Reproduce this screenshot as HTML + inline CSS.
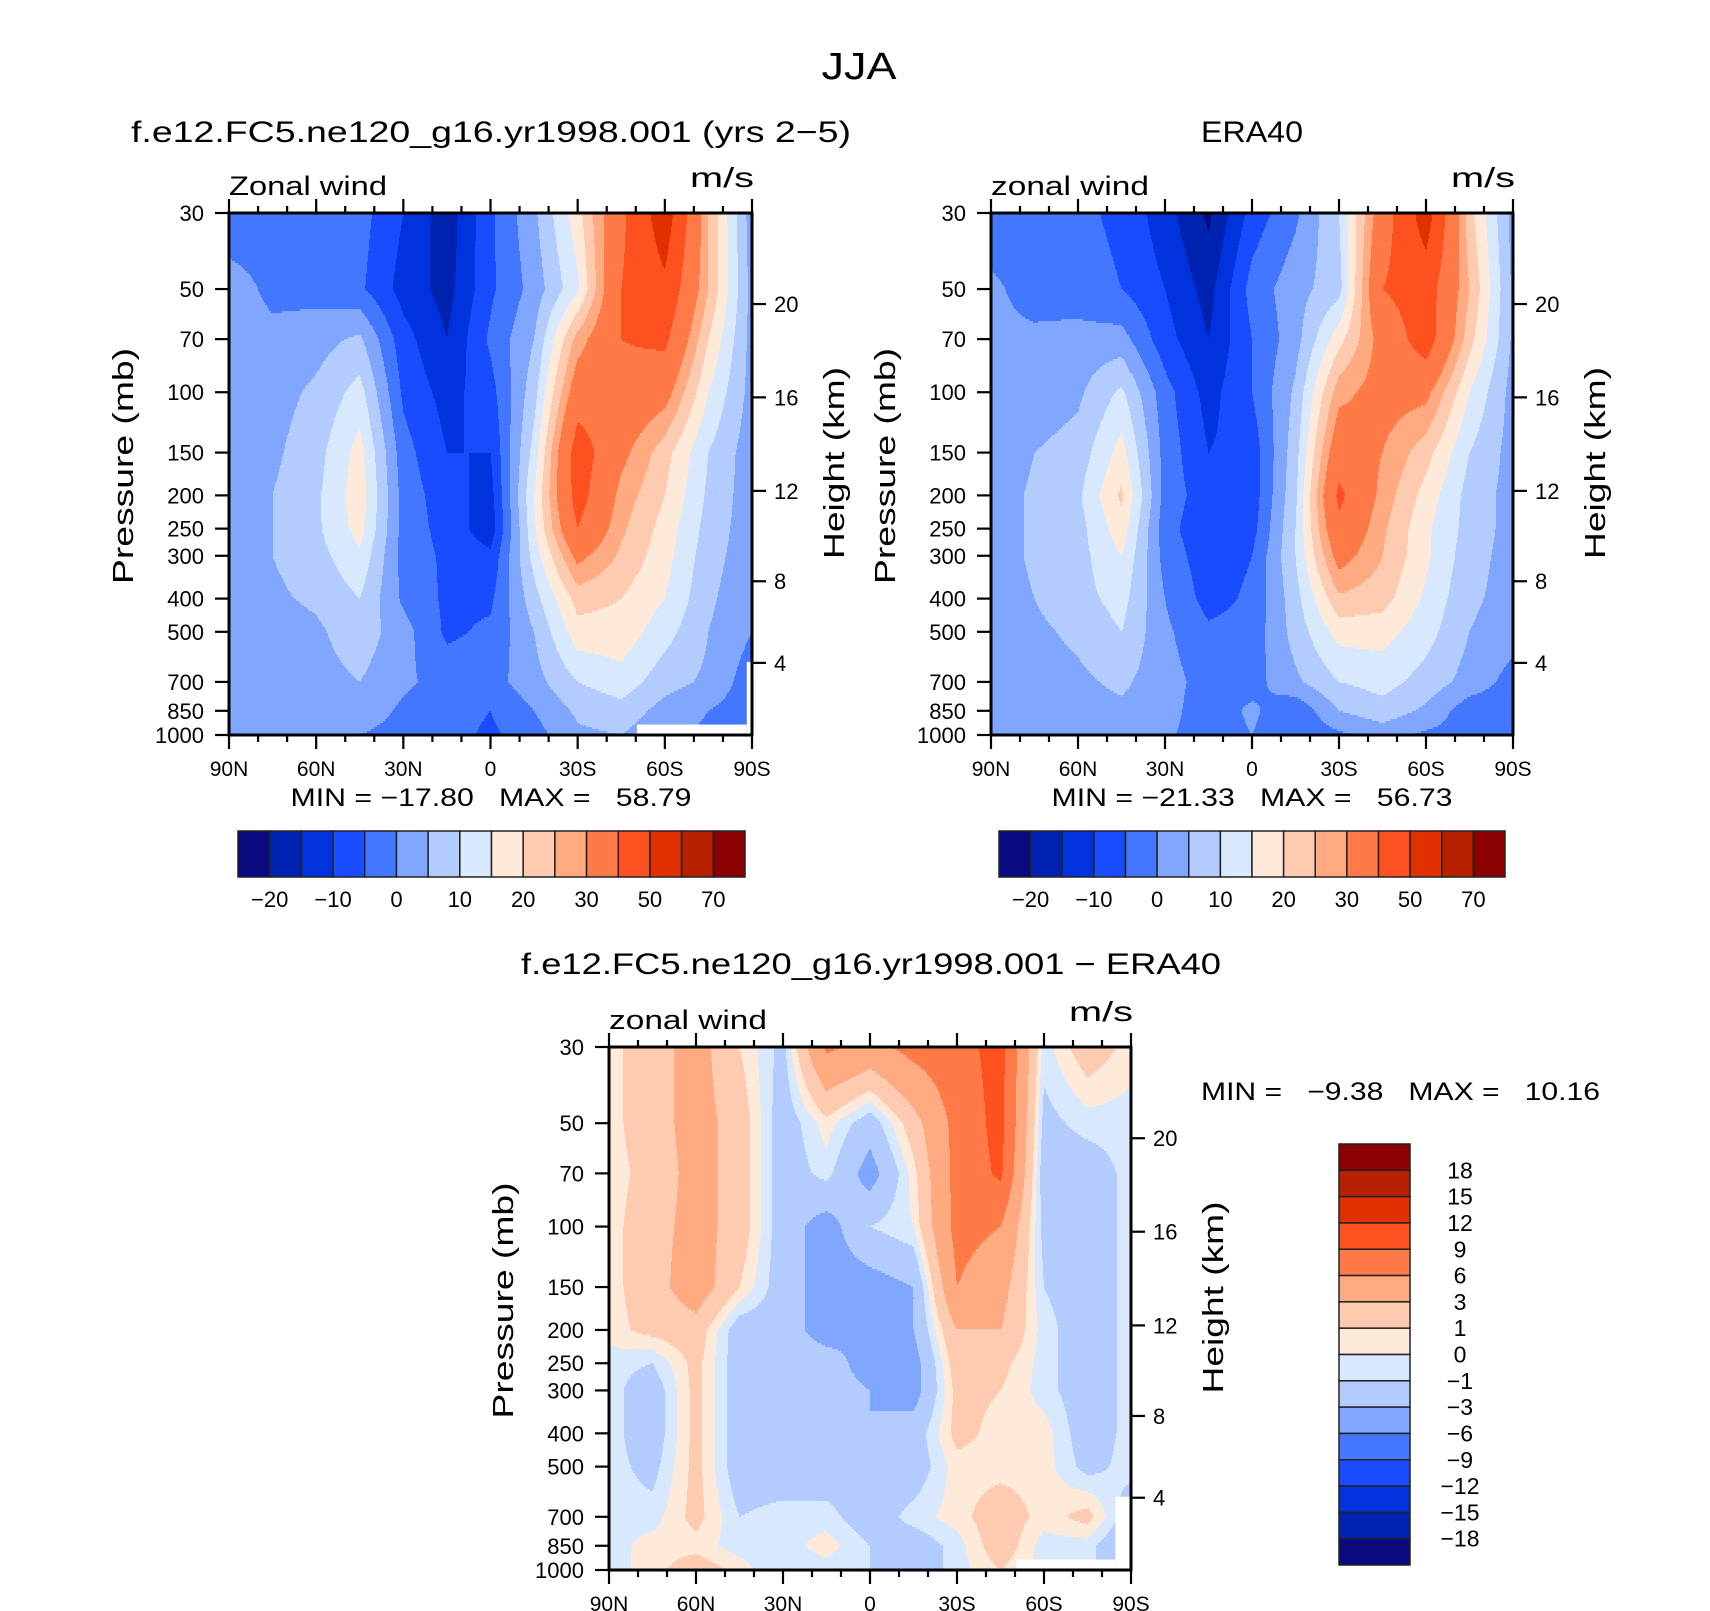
<!DOCTYPE html>
<html><head><meta charset="utf-8"><style>
html,body{margin:0;padding:0;background:#fff}
svg{display:block}
text{font-family:"Liberation Sans",sans-serif;fill:#000;white-space:pre}
</style></head><body>
<svg id="chart" width="1710" height="1611" viewBox="0 0 1710 1611" xmlns="http://www.w3.org/2000/svg">
<g id="root"></g>
</svg>
<script>
// ---- data ----
const lats = ['90N','75N','60N','45N','30N','15N','0','15S','30S','45S','60S','75S','90S'];
const plevs = [30,50,70,100,150,200,250,300,400,500,700,850,1000];
const pTicks = [30,50,70,100,150,200,250,300,400,500,700,850,1000];
const kmTicks = [20,16,12,8,4];
const kmPres = [55.3,103.5,194,356,616];
const latTickLabels = ['90N','60N','30N','0','30S','60S','90S'];
const levelsFull = [-20,-15,-10,-5,0,5,10,15,20,25,30,40,50,60,70];
const levelsFullLabels = ['−20','−10','0','10','20','30','50','70'];
const levelsDiff = [-18,-15,-12,-9,-6,-3,-1,0,1,3,6,9,12,15,18];
const levelsDiffLabels = ['−18','−15','−12','−9','−6','−3','−1','0','1','3','6','9','12','15','18'];
const palette = ['#0a0a80','#0022b0','#0033dd','#1a4cff','#4477ff','#80a6ff','#b3ccff','#d8e8ff','#ffe9d8','#ffcbb0','#ffaa80','#ff7a47','#ff5020','#e03000','#b82000','#8b0000'];

const modelU = [
 [-3,-2,-2,-3,-10,-18,-6,4,18,38,56,25,2],
 [2,-1,-2,-4,-12,-17,-6,2,14,40,48,25,3],
 [2,1,3,6,-8,-15,-4,5,27,40,42,20,3],
 [2,3,6,12,-6,-12,-7,8,35,37,33,15,3],
 [2,4,8,17,-3,-10,-10,12,45,32,22,10,2],
 [3,5,9,18,-2,-8,-12,15,44,28,20,9,2],
 [3,5,9,17,-2,-7,-13,14,40,26,18,8,2],
 [3,5,8,14,-2,-6,-9,12,32,24,17,7,2],
 [1,4,6,10,-1,-6,-6,8,22,20,15,6,1],
 [1,2,4,8,2,-6,-4,5,18,18,12,5,0],
 [1,1,3,5,1,-2,-2,3,10,13,7,4,-3],
 [1,1,2,3,-1,-3,-5,0,6,8,3,0,-3],
 [0,0,1,0,-2,-3,-6,-2,4,5,1,-1,-3]
];
const eraU = [
 [-3,-3,-4,-6,-13,-21,-8,-1,10,35,55,22,3],
 [1,-2,-3,-5,-10,-17,-3,3,8,40,45,25,4],
 [1,1,2,2,-8,-15,-5,3,18,33,45,22,4],
 [1,2,4,11,-3,-12,-5,6,28,33,32,15,3],
 [1,5,7,17,-2,-10,-8,8,36,30,22,10,3],
 [2,6,9,21,-2,-8,-8,9,42,28,18,8,3],
 [2,6,8,18,-3,-9,-7,10,38,26,16,8,3],
 [2,6,8,15,-2,-8,-5,10,33,25,16,7,3],
 [2,5,8,12,0,-7,-4,8,24,22,14,6,3],
 [2,4,6,10,1,-4,-3,7,17,17,12,5,2],
 [2,3,4,6,2,-2,-2,4,10,12,8,3,-2],
 [2,2,3,4,2,-3,1,-4,5,8,4,-3,-3],
 [1,1,2,2,1,-3,0,-4,-1,2,-1,-2,-3]
];
const diffU = [
 [0.5,2,4,1,-1.5,6.5,5,7,8,10,-0.5,2,0.5],
 [0.5,2,4,2,-2,0.5,-2,2,7,10,-1.5,-0.5,-0.5],
 [0.5,1.5,4,2,-2,-0.5,-4,0.5,7,9.5,-2,-2,-0.5],
 [0.5,2,4,2,-2,-4,-1,0,7,6,-1.5,-2,-0.5],
 [0.5,2,4.5,1,-2,-4,-4,-3,6,4,-1,-2,-0.5],
 [0.5,1.5,2,-2,-2,-4,-3,-3,3,3,-0.5,-2,-0.5],
 [-0.5,-1,1.5,-2,-2,-2,-4,-4,2,1.5,-0.5,-2,-0.5],
 [-0.5,-2,1.5,-2,-2,-2,-3,-4,1.5,1,-0.5,-2,-0.5],
 [-0.5,-2,1.5,-2,-2,-2,-3,-2,1.5,0.5,0.5,-2,-0.5],
 [-0.5,-1.5,1.5,-2,-2,-2,-2,-2,0.5,0.5,0.5,-1.5,-0.5],
 [-0.5,-0.5,1.5,-1,-0.5,-0.5,-2,-0.5,0.5,2,0.5,1.5,-2],
 [-0.5,0.5,0.5,-0.5,-0.5,0.5,-1,-2,-0.5,2,-0.5,-0.5,-3],
 [-0.5,0.5,2,0.5,-1,-0.5,-1,-2,-0.5,1,-0.5,-0.5,-3]
];

// ---- helpers ----
const NS='http://www.w3.org/2000/svg';
const root=document.getElementById('root');
function mk(tag,attrs,parent){const e=document.createElementNS(NS,tag);for(const k in attrs)e.setAttribute(k,attrs[k]);(parent||root).appendChild(e);return e;}
function txt(s,x,y,size,anchor,parent,extra){const t=mk('text',Object.assign({x:x,y:y,'font-size':size,'text-anchor':anchor||'start'},extra||{}),parent);t.textContent=s;return t;}
function fit(len){return {textLength:len,lengthAdjust:'spacingAndGlyphs'};}
function colorIdx(v,levels){let i=0;while(i<levels.length&&v>=levels[i])i++;return i;}

function drawPanel(name,px,py,w,h,data,levels,opts){
  const g=mk('g',{});
  
  
  const L=Math.log(1000/30);
  const yOf=p=>py+Math.log(p/30)/L*h;
  const rowY=plevs.map(yOf);
  const fill=mk('g',{},g);
  
  
  const step=2;
  for(let yy=py;yy<py+h;yy+=step){
    const yc=yy+step/2;
    let r=0;while(r<plevs.length-2&&rowY[r+1]<yc)r++;
    const ty=Math.min(1,Math.max(0,(yc-rowY[r])/(rowY[r+1]-rowY[r])));
    let runStart=px,runCol=-1;
    for(let xx=px;xx<=px+w;xx++){
      let col=-1;
      if(xx<px+w){
        const fx=(xx+0.5-px)/w*(lats.length-1);
        const c=Math.min(lats.length-2,Math.floor(fx));const tx=fx-c;
        const v=(data[r][c]*(1-tx)+data[r][c+1]*tx)*(1-ty)+(data[r+1][c]*(1-tx)+data[r+1][c+1]*tx)*ty;
        col=colorIdx(v,levels);
      }
      if(col!==runCol){
        if(runCol>=0){
          mk('rect',{x:runStart,y:yy,width:xx-runStart+0.6,height:step+0.6,fill:palette[runCol]},fill);
        }
        runStart=xx;runCol=col;
      }
    }
  }
  if(opts.mask){
    for(const m of opts.mask){
      const mr=mk('rect',{x:px+m[0]*w,y:py+m[1]*h,width:(m[2]-m[0])*w,height:(m[3]-m[1])*h,fill:'#fff'},g);
      
      
    }
  }
  const fr=mk('rect',{x:px,y:py,width:w,height:h,fill:'none',stroke:'#000','stroke-width':3},g);
  
  
  const ax=mk('g',{stroke:'#000','stroke-width':2.2},g);
  
  
  for(let d=0;d<=180;d+=10){
    const x=px+d/180*w;const len=(d%30===0)?14:7;
    mk('line',{x1:x,y1:py,x2:x,y2:py-len},ax);
    mk('line',{x1:x,y1:py+h,x2:x,y2:py+h+len},ax);
  }
  latTickLabels.forEach((s,i)=>{
    const t=txt(s,px+i/6*w,py+h+41,21,'middle',g);
    
    
  });
  const ya=mk('g',{stroke:'#000','stroke-width':2.2},g);
  
  
  pTicks.forEach(p=>{
    const y=yOf(p);
    mk('line',{x1:px-14,y1:y,x2:px,y2:y},ya);
    const t=txt(String(p),px-25,y+8,22,'end',g);
    
    
  });
  kmTicks.forEach((k,i)=>{
    const y=yOf(kmPres[i]);
    mk('line',{x1:px+w,y1:y,x2:px+w+14,y2:y},ya);
    const t=txt(String(k),px+w+22,y+8,22,'start',g);
    
    
  });
  const yl=txt('Pressure (mb)',0,0,29,'middle',g,Object.assign({transform:`translate(${px-96},${py+h/2-8}) rotate(-90)`},fit(236)));
  
  
  const hl=txt('Height (km)',0,0,29,'middle',g,Object.assign({transform:`translate(${px+w+92},${py+h/2-11}) rotate(-90)`},fit(192)));
  
  
  const lt=txt(opts.left,px,py-18,27,'start',g,fit(158));
  
  
  const ut=txt('m/s',px+w+2,py-26,28,'end',g,fit(64));
  
  
  return g;
}

function hColorbar(name,x0,y0,w,h,labels){
  const g=mk('g',{});
  
  
  const bw=w/16;
  for(let i=0;i<16;i++){
    const r=mk('rect',{x:x0+i*bw,y:y0,width:bw,height:h,fill:palette[i],stroke:'#222','stroke-width':1.5},g);
    
    
  }
  labels.forEach((s,j)=>{
    const t=txt(s,x0+(2*j+1)*bw,y0+h+30,22,'middle',g);
    
    
  });
}
function vColorbar(name,x0,y0,w,h,labels){
  const g=mk('g',{});
  
  
  const bh=h/16;
  for(let i=0;i<16;i++){
    const r=mk('rect',{x:x0,y:y0+i*bh,width:w,height:bh,fill:palette[15-i],stroke:'#222','stroke-width':1.5},g);
    
    
  }
  labels.slice().reverse().forEach((s,j)=>{
    const t=txt(s,x0+w+50,y0+(j+1)*bh+8,23,'middle',g);
    
    
  });
}

let t;
t=txt('JJA',859,79,38,'middle',null,fit(75));


t=txt('f.e12.FC5.ne120_g16.yr1998.001 (yrs 2−5)',491,142,30,'middle',null,fit(720));


t=txt('ERA40',1252,142,30,'middle',null,fit(102));


t=txt('f.e12.FC5.ne120_g16.yr1998.001 − ERA40',871,974,30,'middle',null,fit(700));



drawPanel('model-panel',229,213,523,522,modelU,levelsFull,{left:'Zonal wind',mask:[[0.78,0.98,0.99,1.0],[0.99,0.86,1.0,1.0]]});
drawPanel('era40-panel',991,213,522,522,eraU,levelsFull,{left:'zonal wind'});
drawPanel('difference-panel',609,1047,522,523,diffU,levelsDiff,{left:'zonal wind',mask:[[0.78,0.98,0.97,1.0],[0.97,0.86,1.0,1.0]]});

t=txt('MIN = −17.80   MAX =   58.79',491,806,25,'middle',null,fit(401));


t=txt('MIN = −21.33   MAX =   56.73',1252,806,25,'middle',null,fit(401));


t=txt('MIN =   −9.38   MAX =   10.16',1201,1100,25,'start',null,fit(399));



hColorbar('model-colorbar',238,831,507,46,levelsFullLabels);
hColorbar('era40-colorbar',999,831,506,46,levelsFullLabels);
vColorbar('difference-colorbar',1339,1144,71,421,levelsDiffLabels);
</script>
</body></html>
